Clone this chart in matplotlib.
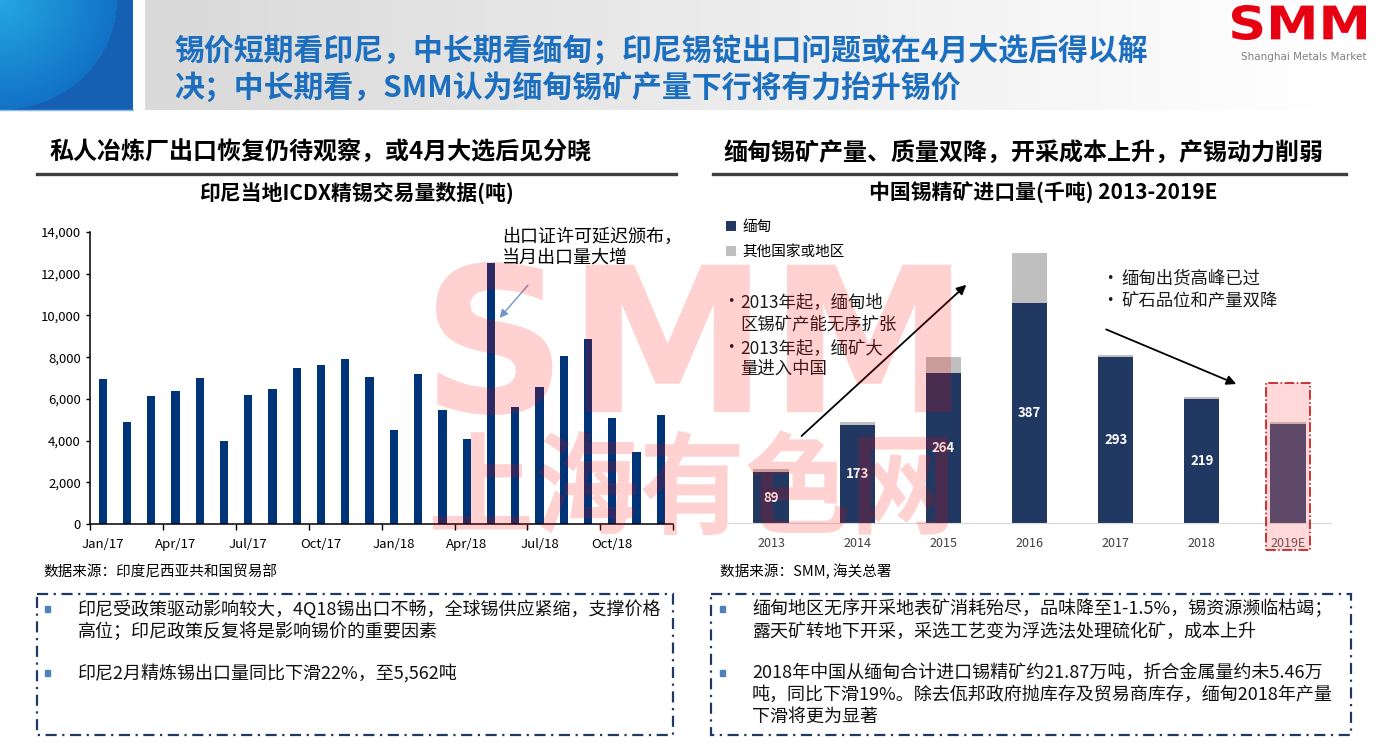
import numpy as np
import matplotlib
matplotlib.use("Agg")
import matplotlib.pyplot as plt
from matplotlib.patches import Rectangle, PathPatch
from matplotlib.lines import Line2D
from matplotlib.textpath import TextPath
from matplotlib.font_manager import FontProperties
from matplotlib.transforms import Affine2D
from matplotlib.ticker import FuncFormatter

plt.rcParams["font.family"] = ["Noto Sans CJK SC", "DejaVu Sans"]

# left chart: ICDX monthly tin volume (t), Jan/17 .. Dec/18
month_ticks = ["Jan/17", "Apr/17", "Jul/17", "Oct/17", "Jan/18", "Apr/18", "Jul/18", "Oct/18"]
icdx_volume = [6950, 4900, 6150, 6380, 7000, 3990, 6190, 6480, 7480, 7620, 7910, 7050,
               4510, 7190, 5470, 4080, 12500, 5610, 6570, 8050, 8870, 5090, 3460, 5230]

# right chart: China tin concentrate imports (kt)
years = ["2013", "2014", "2015", "2016", "2017", "2018", "2019E"]
myanmar = [89, 173, 264, 387, 293, 219, 174]
other_regions = [6, 5, 28, 88, 3, 3, 4]
myanmar_labels = ["89", "173", "264", "387", "293", "219", ""]

W, H = 1378, 742
fig = plt.figure(figsize=(W / 100, H / 100), dpi=100)
# pixel coords (y down) -> figure
PX = Affine2D().scale(1 / W, -1 / H).translate(0, 1) + fig.transFigure


def ptext(x, y, s, **kw):
    return fig.text(x, y, s, transform=PX, **kw)


def axes_px(x0, y0, x1, y1):
    return fig.add_axes([x0 / W, 1 - y1 / H, (x1 - x0) / W, (y1 - y0) / H])


def fit_text(s, box, prop, **kw):
    x0, y0, x1, y1 = box
    tp = TextPath((0, 0), s, size=100, prop=prop)
    ext = tp.get_extents()
    tr = (Affine2D().translate(-ext.x0, -ext.y1)
          .scale((x1 - x0) / ext.width, -(y1 - y0) / ext.height)
          .translate(x0, y0))
    fig.add_artist(PathPatch(tr.transform_path(tp), transform=PX, lw=0, **kw))


# ---- header ----
yy, xx = np.mgrid[0:110, 0:133] + 0.5
r = np.sqrt((xx / 117) ** 2 + (yy / 110) ** 2)
light = np.array([36, 168, 226])
mid = np.array([18, 114, 198])
dark = np.array([22, 96, 180])
inner = light + (mid - light) * np.clip(r, 0, 1)[..., None]
blue = np.where((r < 1)[..., None], inner, dark) / 255
ax_b = axes_px(0, 0, 133, 110)
ax_b.imshow(blue, aspect="auto", interpolation="bilinear")
ax_b.axis("off")
fig.add_artist(Line2D([0, 133], [110, 110], transform=PX, color="#8ab8e8", lw=1))

g = np.clip(217 + (255 - 217) * np.linspace(0, 1.05, 600), 0, 255) / 255
ax_g = axes_px(145, 0, W, 110)
ax_g.imshow(np.dstack([g, g, g]).repeat(2, axis=0), aspect="auto")
ax_g.axis("off")

title_kw = dict(color="#1c6ebf", fontsize=21.5, fontweight="bold", va="center")
ptext(174, 50, "锡价短期看印尼，中长期看缅甸；印尼锡锭出口问题或在4月大选后得以解", **title_kw)
ptext(174, 87, "决；中长期看，SMM认为缅甸锡矿产量下行将有力抬升锡价", **title_kw)

logo_prop = FontProperties(family="DejaVu Sans", weight="bold")
fit_text("SMM", (1232, 5, 1366, 40), logo_prop, facecolor="#e60012", zorder=5)
ptext(1304, 57, "Shanghai Metals Market", ha="center", va="center", fontsize=7.5,
      color="#7f7f7f", family="DejaVu Sans")

# ---- section headers ----
ptext(50, 153, "私人冶炼厂出口恢复仍待观察，或4月大选后见分晓", fontsize=17.3,
      fontweight="bold", va="center")
ptext(723, 153, "缅甸锡矿产量、质量双降，开采成本上升，产锡动力削弱", fontsize=17.3,
      fontweight="bold", va="center")
for x0, x1 in [(37, 676), (713, 1346)]:
    fig.add_artist(Line2D([x0, x1], [174, 174], transform=PX, color="#404040", lw=2.4))
ptext(357, 193, "印尼当地ICDX精锡交易量数据(吨)", fontsize=15, fontweight="bold",
      ha="center", va="center")
ptext(1043, 193, "中国锡精矿进口量(千吨) 2013-2019E", fontsize=15, fontweight="bold",
      ha="center", va="center")

# ---- left chart ----
ax1 = axes_px(90.5, 232, 673, 524)
x1 = np.arange(len(icdx_volume))
ax1.bar(x1, icdx_volume, width=0.34, color="#003478")
ax1.set_xlim(-0.5, len(icdx_volume) - 0.5)
ax1.set_ylim(0, 14000)
ax1.set_yticks(np.arange(0, 14001, 2000))
ax1.yaxis.set_major_formatter(FuncFormatter(lambda v, p: f"{int(v):,}"))
ax1.set_xticks(np.arange(0, len(icdx_volume), 3))
ax1.set_xticklabels(month_ticks)
ax1.set_xticks(np.arange(-0.5, len(icdx_volume), 3), minor=True)
ax1.tick_params(axis="x", which="major", length=0, pad=10, labelsize=9.5)
ax1.tick_params(axis="x", which="minor", length=4, width=1)
ax1.tick_params(axis="y", length=3, width=1, pad=4, labelsize=9.5)
for s in ["top", "right"]:
    ax1.spines[s].set_visible(False)
for s in ["left", "bottom"]:
    ax1.spines[s].set_linewidth(1.1)
ax1.annotate("", xy=(16.28, 9780), xytext=(17.6, 11550),
             arrowprops=dict(arrowstyle="-|>", color="#7496c8", lw=1, mutation_scale=12))
ptext(502, 237, "出口证许可延迟颁布，", fontsize=13, va="center")
ptext(502, 258, "当月出口量大增", fontsize=13, va="center")

# ---- right chart ----
ax2 = axes_px(728, 233, 1331, 523)
x2 = np.arange(len(years))
b1 = ax2.bar(x2, myanmar, width=0.41, color="#213862", label="缅甸")
b2 = ax2.bar(x2, other_regions, bottom=myanmar, width=0.41, color="#bfbfbf",
             label="其他国家或地区")
ax2.bar_label(b1, labels=myanmar_labels, label_type="center", color="white",
              fontsize=9.5, fontweight="bold")
ax2.set_xlim(-0.5, len(years) - 0.5)
ax2.set_ylim(0, 511)
ax2.set_xticks(x2)
ax2.set_xticklabels(years)
ax2.set_yticks([])
ax2.tick_params(axis="x", length=0, pad=10, labelsize=9, labelcolor="#404040")
for s in ["top", "right", "left"]:
    ax2.spines[s].set_visible(False)
ax2.spines["bottom"].set_color("#d9d9d9")
ax2.legend(handles=[b1, b2], loc="upper left", bbox_to_anchor=(726, 220),
           bbox_transform=PX, frameon=False, fontsize=10.5, handlelength=0.7,
           handleheight=0.7, handletextpad=0.4, labelspacing=0.75, borderpad=0,
           borderaxespad=0)
ax2.add_patch(Rectangle((5.74, -47.6), 0.52, 294, facecolor=(1, 119 / 255, 126 / 255, 0.284),
                        edgecolor="#c00000", lw=1.1, ls="-.", clip_on=False, zorder=5))
arrow_kw = dict(arrowstyle="-|>", color="black", lw=1.3, mutation_scale=14)
ax2.annotate("", xy=(2.29, 423), xytext=(0.33, 150), arrowprops=arrow_kw)
ax2.annotate("", xy=(5.43, 243), xytext=(3.86, 343), arrowprops=arrow_kw)

note_kw = dict(fontsize=12.5, va="center", color="#1a1a1a")
for y, bullet, s in [(302, True, "2013年起，缅甸地"), (325, False, "区锡矿产能无序扩张"),
                     (348, True, "2013年起，缅矿大"), (369, False, "量进入中国")]:
    if bullet:
        ptext(722, y, "•", **note_kw)
    ptext(740, y, s, **note_kw)
for y, s in [(279, "缅甸出货高峰已过"), (301, "矿石品位和产量双降")]:
    ptext(1101, y, "•", **note_kw)
    ptext(1121, y, s, **note_kw)

# ---- sources ----
ptext(43, 572, "数据来源：印度尼西亚共和国贸易部", fontsize=10.5, va="center")
ptext(720, 572, "数据来源：SMM, 海关总署", fontsize=10.5, va="center")

# ---- comment boxes ----
for x0, x1 in [(37, 673), (711, 1351)]:
    fig.add_artist(Rectangle((x0, 594), x1 - x0, 141, transform=PX, fill=False,
                             edgecolor="#1f3864", lw=1.6, ls=(0, (5, 2.5, 1, 2.5))))

box_kw = dict(fontsize=13, va="center", color="#111111")
left_notes = [(609, True, "印尼受政策驱动影响较大，4Q18锡出口不畅，全球锡供应紧缩，支撑价格"),
              (632, False, "高位；印尼政策反复将是影响锡价的重要因素"),
              (673, True, "印尼2月精炼锡出口量同比下滑22%，至5,562吨")]
right_notes = [(609, True, "缅甸地区无序开采地表矿消耗殆尽，品味降至1-1.5%，锡资源濒临枯竭；"),
               (632, False, "露天矿转地下开采，采选工艺变为浮选法处理硫化矿，成本上升"),
               (673, True, "2018年中国从缅甸合计进口锡精矿约21.87万吨，折合金属量约未5.46万"),
               (695, False, "吨，同比下滑19%。除去佤邦政府抛库存及贸易商库存，缅甸2018年产量"),
               (717, False, "下滑将更为显著")]
for bx, tx, notes in [(45, 78, left_notes), (720, 752, right_notes)]:
    for y, bullet, s in notes:
        if bullet:
            fig.add_artist(Rectangle((bx, y - 3), 5, 6, transform=PX, color="#4f81bd"))
        ptext(tx, y, s, **box_kw)

# ---- watermark ----
wm_cjk = FontProperties(family="Noto Sans CJK SC", weight="bold")
fit_text("SMM", (436, 262, 951, 415), logo_prop, facecolor=(1, 0, 0, 0.18), zorder=10)
fit_text("上海有色网", (433, 430, 948, 535), wm_cjk, facecolor=(1, 0, 0, 0.18), zorder=10)

fig.savefig("out.png", dpi=100)
